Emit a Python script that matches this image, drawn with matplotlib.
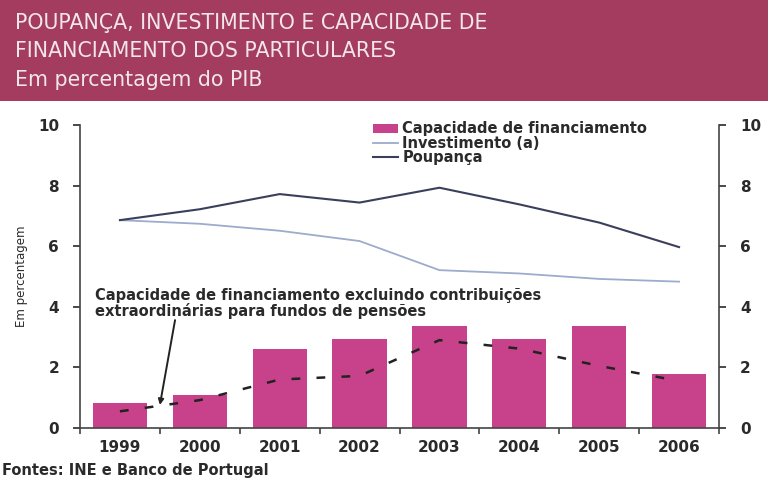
import numpy as np
import matplotlib
matplotlib.use('Agg')
import matplotlib.pyplot as plt
from matplotlib.patches import Rectangle

plt.rcParams['font.family'] = ['DejaVu Sans']

anos = ['1999', '2000', '2001', '2002', '2003', '2004', '2005', '2006']
capacidade = [0.83, 1.09, 2.60, 2.94, 3.38, 2.93, 3.38, 1.79]
investimento = [6.86, 6.74, 6.51, 6.17, 5.21, 5.10, 4.92, 4.83]
poupanca = [6.86, 7.22, 7.72, 7.44, 7.93, 7.38, 6.78, 5.97]
cap_excl = [0.55, 0.92, 1.60, 1.72, 2.90, 2.62, 2.05, 1.55]

bar_col = '#c8428b'
band_col = '#a33c5e'
txt = '#2a2a2a'

fig = plt.figure(figsize=(7.72, 4.8), dpi=100)
fig.patch.set_facecolor('white')

# title band
fig.patches.append(Rectangle((0, 1 - 101/480), 768/772, 101/480, transform=fig.transFigure,
                             facecolor=band_col, edgecolor='none', zorder=0))
tcol = '#f3e6ea'
for yy, s in [(23, 'POUPANÇA, INVESTIMENTO E CAPACIDADE DE'),
              (51, 'FINANCIAMENTO DOS PARTICULARES'),
              (80, 'Em percentagem do PIB')]:
    fig.text(15/772, 1 - yy/480, s, color=tcol, fontsize=14.8, va='center', ha='left')

ax = fig.add_axes([80/772, 1 - 428/480, 639/772, 303/480])
x = np.arange(len(anos))
b = ax.bar(x, capacidade, width=0.68, color=bar_col, zorder=2)
l1, = ax.plot(x, investimento, color='#9dabcc', lw=1.3, zorder=3)
l2, = ax.plot(x, poupanca, color='#3a3f5c', lw=1.5, zorder=3)
ax.plot(x, cap_excl, color='#222222', lw=1.8, dashes=(3.5, 6.5), zorder=4)

ax.set_xlim(-0.5, 7.5)
ax.set_ylim(0, 10)
ax.set_yticks([0, 2, 4, 6, 8, 10])
ax.set_xticks(x)
ax.set_xticklabels(anos, fontweight='bold')
ax.set_xticks(np.arange(-0.5, 8, 1), minor=True)
ax.tick_params(axis='x', which='major', length=0, pad=9, labelsize=11, colors=txt)
ax.tick_params(axis='x', which='minor', length=4, width=1.2, direction='out', color='#444444')
ax.tick_params(axis='y', length=5, width=1.2, direction='out', labelsize=11, pad=10,
               colors=txt)
for t in ax.get_yticklabels():
    t.set_fontweight('bold')
ax.spines['top'].set_visible(False)
ax.spines['right'].set_visible(False)
for s in ['left', 'bottom']:
    ax.spines[s].set_color('#444444')
    ax.spines[s].set_linewidth(1.2)
ax.set_ylabel('Em percentagem', fontsize=8.5, color=txt, labelpad=7)

ax2 = ax.twinx()
ax2.set_ylim(0, 10)
ax2.set_yticks([0, 2, 4, 6, 8, 10])
ax2.tick_params(axis='y', length=5, width=1.2, direction='out', labelsize=11, pad=10,
                colors=txt)
for t in ax2.get_yticklabels():
    t.set_fontweight('bold')
for s in ['top', 'left', 'bottom']:
    ax2.spines[s].set_visible(False)
ax2.spines['right'].set_color('#444444')
ax2.spines['right'].set_linewidth(1.2)

leg = ax.legend([b, l1, l2], ['Capacidade de financiamento', 'Investimento (a)', 'Poupança'],
                loc='upper left', bbox_to_anchor=(286/639, 1.036), frameon=False,
                prop={'size': 10.5, 'weight': 'bold'}, handlelength=1.7, handletextpad=0.3,
                labelspacing=-0.05, borderpad=0, handleheight=0.6)
for t in leg.get_texts():
    t.set_color(txt)

ax.text(-0.31, 4.62, 'Capacidade de financiamento excluindo contribuições\n'
        'extraordinárias para fundos de pensões', fontsize=10.5, fontweight='bold',
        color=txt, va='top', ha='left', linespacing=1.0)
ax.annotate('', xy=(0.5, 0.76), xytext=(0.69, 3.56),
            arrowprops=dict(arrowstyle='-|>', color='#222222', lw=1.4,
                            shrinkA=0, shrinkB=0, mutation_scale=8))

fig.text(2/772, 1 - 463/480, 'Fontes: INE e Banco de Portugal', fontsize=10.5, color=txt,
         va='top', ha='left', fontweight='bold')

fig.savefig('out.png', dpi=100)
